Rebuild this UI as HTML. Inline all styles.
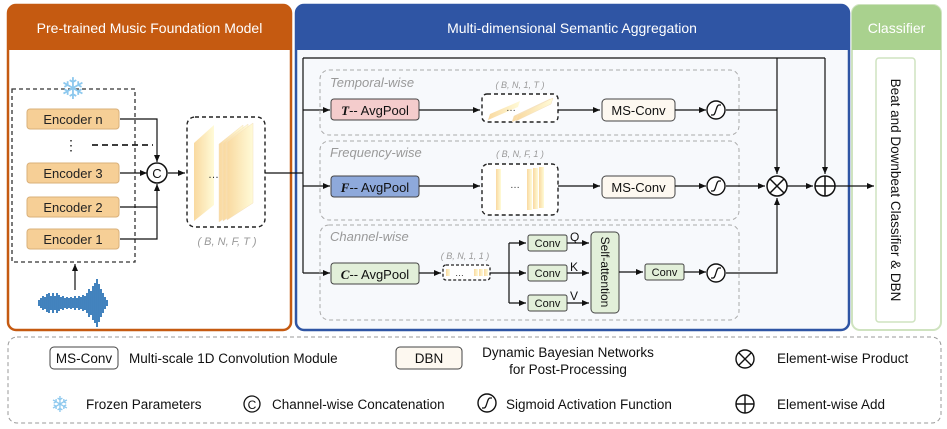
<!DOCTYPE html>
<html><head><meta charset="utf-8"><style>
html,body{margin:0;padding:0;background:#fff;}
svg{display:block;font-family:"Liberation Sans",Arial,sans-serif;}
</style></head><body>
<svg width="947" height="429" viewBox="0 0 947 429" xmlns="http://www.w3.org/2000/svg">
<defs>
<marker id="a" markerWidth="8" markerHeight="8" refX="7" refY="4" orient="auto" markerUnits="userSpaceOnUse"><path d="M0,1 L7,4 L0,7 z" fill="#111"/></marker>
<linearGradient id="pg" x1="0" y1="0" x2="1" y2="0"><stop offset="0" stop-color="#f9d9a0"/><stop offset="1" stop-color="#fffbd8"/></linearGradient>
</defs>
<rect x="8" y="5" width="283" height="325" rx="8" fill="#fff" stroke="#c55a11" stroke-width="2.5"/>
<path d="M8,13 a8,8 0 0 1 8,-8 h267 a8,8 0 0 1 8,8 v37 h-283z" fill="#c55a11"/>
<text x="149.5" y="33" text-anchor="middle" font-size="14" fill="#fff">Pre-trained Music Foundation Model</text>
<rect x="296" y="5" width="553" height="325" rx="8" fill="#f7f9fc" stroke="#2f55a4" stroke-width="2.5"/>
<path d="M296,13 a8,8 0 0 1 8,-8 h537 a8,8 0 0 1 8,8 v37 h-553z" fill="#2f55a4"/>
<text x="572" y="33" text-anchor="middle" font-size="14" fill="#fff">Multi-dimensional Semantic Aggregation</text>
<rect x="852" y="5" width="89" height="325" rx="8" fill="#fff" stroke="#cfe3c0" stroke-width="2"/>
<path d="M852,13 a8,8 0 0 1 8,-8 h73 a8,8 0 0 1 8,8 v37 h-89z" fill="#a9d18e"/>
<text x="896.5" y="33" text-anchor="middle" font-size="14" fill="#fff">Classifier</text>
<rect x="876" y="58" width="39" height="264" rx="3" fill="#fff" stroke="#cfe3c0" stroke-width="1.5"/>
<text transform="translate(891,190) rotate(90)" text-anchor="middle" font-size="13.5" fill="#111">Beat and Downbeat Classifier &amp; DBN</text>

<rect x="12" y="89" width="123" height="173" fill="none" stroke="#333" stroke-width="1.3" stroke-dasharray="4,3"/>
<text x="73" y="99" text-anchor="middle" font-size="30" fill="#8cc8ee">❄</text>
<g font-size="13" fill="#222" text-anchor="middle">
<rect x="27" y="109" width="92" height="20" rx="3" fill="#f6cf96" stroke="#d9b07a"/><text x="73" y="124">Encoder n</text>
<rect x="27" y="163" width="92" height="20" rx="3" fill="#f6cf96" stroke="#d9b07a"/><text x="73" y="178">Encoder 3</text>
<rect x="27" y="197" width="92" height="20" rx="3" fill="#f6cf96" stroke="#d9b07a"/><text x="73" y="212">Encoder 2</text>
<rect x="27" y="229" width="92" height="20" rx="3" fill="#f6cf96" stroke="#d9b07a"/><text x="73" y="244">Encoder 1</text>
</g>
<text x="71" y="150" text-anchor="middle" font-size="14" fill="#222">⋮</text>
<line x1="92" y1="145" x2="153" y2="145" stroke="#222" stroke-width="1.8" stroke-dasharray="6,4"/>
<g stroke="#111" stroke-width="1.2" fill="none">
<polyline points="120,119 157,119 157,162" marker-end="url(#a)"/>
<line x1="120" y1="173" x2="147" y2="173" marker-end="url(#a)"/>
<polyline points="120,207 157,207 157,184" marker-end="url(#a)"/>
<polyline points="120,239 157,239 157,207"/>
<line x1="168" y1="173" x2="185" y2="173" marker-end="url(#a)"/>
<line x1="75" y1="290" x2="75" y2="264" marker-end="url(#a)"/>
</g>
<circle cx="157" cy="173" r="10" fill="#fff" stroke="#111" stroke-width="1.5"/>
<text x="157" y="178" text-anchor="middle" font-size="13" fill="#111">C</text>
<rect x="187" y="117" width="78" height="110" rx="8" fill="#fff" stroke="#222" stroke-width="1.4" stroke-dasharray="4,3"/>
<polygon points="194,143 214,125 214,205 194,221" fill="url(#pg)"/>
<polygon points="219,144 243,125 243,205 219,222" fill="url(#pg)" stroke="#f4e0c0" stroke-width="0.5"/>
<polygon points="223,143 248,124 248,204 223,221" fill="url(#pg)" stroke="#f4e0c0" stroke-width="0.5"/>
<polygon points="227,142 253,123 253,203 227,220" fill="url(#pg)" stroke="#f4e0c0" stroke-width="0.5"/>
<text x="208" y="178" font-size="11" fill="#333">…</text>
<text x="227" y="245" text-anchor="middle" font-size="11" font-style="italic" fill="#999">( B, N, F, T )</text>
<g stroke="#2e75b6" stroke-width="1.8">
<path d="M39,300v6 M41,298v10 M43,296v14 M45,297v12 M47,294v18 M49,293v20 M51,296v14 M53,293v20 M55,296v14 M57,293v20 M59,295v16 M61,297v12 M63,296v14 M65,298v10 M67,297v12 M69,298v10 M71,297v12 M73,298v10 M75,296v14 M77,298v10 M79,296v14 M81,297v12 M83,295v16 M85,296v14 M87,293v20 M89,289v28 M91,291v24 M93,286v34 M95,283v40 M97,279v48 M99,284v38 M101,289v28 M103,293v20 M105,297v12 M107,300v6"/>
</g>

<g stroke="#111" stroke-width="1.2" fill="none">
<line x1="265" y1="173" x2="303" y2="173"/>
<line x1="303" y1="58" x2="303" y2="273"/>
<line x1="303" y1="58" x2="825" y2="58"/>
<line x1="303" y1="110" x2="330" y2="110" marker-end="url(#a)"/>
<line x1="303" y1="186" x2="330" y2="186" marker-end="url(#a)"/>
<line x1="303" y1="273" x2="330" y2="273" marker-end="url(#a)"/>
</g>
<rect x="320" y="70" width="419" height="65" rx="9" fill="none" stroke="#aaa" stroke-dasharray="4,3"/>
<rect x="320" y="141" width="419" height="79" rx="9" fill="none" stroke="#aaa" stroke-dasharray="4,3"/>
<rect x="320" y="225" width="419" height="95" rx="9" fill="none" stroke="#aaa" stroke-dasharray="4,3"/>
<g font-size="13" font-style="italic" fill="#999">
<text x="330" y="87">Temporal-wise</text>
<text x="330" y="157">Frequency-wise</text>
<text x="330" y="241">Channel-wise</text>
</g>
<rect x="331" y="99" width="88" height="21" rx="3" fill="#f4cccc" stroke="#444"/>
<text x="375" y="115" text-anchor="middle" font-size="13" fill="#111"><tspan font-family="Liberation Serif" font-weight="bold" font-style="italic">T</tspan>-- AvgPool</text>
<rect x="482" y="94" width="76" height="28" rx="5" fill="#fff" stroke="#222" stroke-width="1.4" stroke-dasharray="4,3"/>
<polygon points="488,120 490,114 520,101 518,107" fill="url(#pg)"/>
<polygon points="512,122 514,116 550,99 548,105" fill="url(#pg)" stroke="#f4e0c0" stroke-width="0.5"/>
<polygon points="516,121 518,115 553,98 551,104" fill="url(#pg)" stroke="#f4e0c0" stroke-width="0.5"/>
<text x="506" y="111" font-size="10" fill="#333">…</text>
<text x="520" y="88" text-anchor="middle" font-size="9" font-style="italic" fill="#999">( B, N, 1, T )</text>
<rect x="602" y="99" width="73" height="22" rx="4" fill="#fdf8f0" stroke="#444"/>
<text x="638.5" y="115" text-anchor="middle" font-size="13" fill="#111">MS-Conv</text>
<rect x="331" y="176" width="88" height="21" rx="3" fill="#8ea9db" stroke="#444"/>
<text x="375" y="192" text-anchor="middle" font-size="13" fill="#111"><tspan font-family="Liberation Serif" font-weight="bold" font-style="italic">F</tspan>-- AvgPool</text>
<rect x="482" y="164" width="76" height="51" rx="6" fill="#fff" stroke="#222" stroke-width="1.4" stroke-dasharray="4,3"/>
<rect x="496" y="169" width="5" height="41" fill="url(#pg)"/>
<rect x="527" y="169" width="5" height="41" fill="url(#pg)"/>
<rect x="533" y="168" width="5" height="41" fill="url(#pg)"/>
<rect x="539" y="167" width="5" height="41" fill="url(#pg)"/>
<text x="510" y="188" font-size="10" fill="#333">…</text>
<text x="520" y="157" text-anchor="middle" font-size="9" font-style="italic" fill="#999">( B, N, F, 1 )</text>
<rect x="602" y="176" width="73" height="22" rx="4" fill="#fdf8f0" stroke="#444"/>
<text x="638.5" y="192" text-anchor="middle" font-size="13" fill="#111">MS-Conv</text>
<rect x="331" y="263" width="88" height="21" rx="3" fill="#e2efd9" stroke="#444"/>
<text x="375" y="279" text-anchor="middle" font-size="13" fill="#111"><tspan font-family="Liberation Serif" font-weight="bold" font-style="italic">C</tspan>-- AvgPool</text>
<rect x="443" y="265" width="47" height="15" rx="3" fill="#fff" stroke="#222" stroke-width="1.3" stroke-dasharray="3,2"/>
<rect x="446" y="269" width="4" height="7" fill="url(#pg)"/>
<rect x="474" y="269" width="4" height="7" fill="url(#pg)"/>
<rect x="479" y="269" width="4" height="7" fill="url(#pg)"/>
<rect x="484" y="269" width="4" height="7" fill="url(#pg)"/>
<text x="455" y="276" font-size="9" fill="#333">…</text>
<text x="465" y="259" text-anchor="middle" font-size="9" font-style="italic" fill="#999">( B, N, 1, 1 )</text>
<g font-size="11" fill="#111" text-anchor="middle">
<rect x="528" y="235" width="39" height="16" rx="2" fill="#e2efd9" stroke="#444"/><text x="547.5" y="247">Conv</text>
<rect x="528" y="265" width="39" height="16" rx="2" fill="#e2efd9" stroke="#444"/><text x="547.5" y="277">Conv</text>
<rect x="528" y="295" width="39" height="16" rx="2" fill="#e2efd9" stroke="#444"/><text x="547.5" y="307">Conv</text>
<rect x="645" y="264" width="39" height="16" rx="2" fill="#e2efd9" stroke="#444"/><text x="664.5" y="276">Conv</text>
</g>
<g font-size="12" fill="#111"><text x="570" y="241">Q</text><text x="570" y="271">K</text><text x="570" y="300">V</text></g>
<rect x="591" y="232" width="28" height="81" rx="4" fill="#e2efd9" stroke="#444"/>
<text transform="translate(601,272) rotate(90)" text-anchor="middle" font-size="12" fill="#111">Self-attention</text>
<g stroke="#111" stroke-width="1.2" fill="none">
<line x1="419" y1="110" x2="480" y2="110" marker-end="url(#a)"/>
<line x1="558" y1="110" x2="600" y2="110" marker-end="url(#a)"/>
<line x1="675" y1="110" x2="706" y2="110" marker-end="url(#a)"/>
<line x1="726" y1="110" x2="777" y2="110"/>
<line x1="419" y1="186" x2="480" y2="186" marker-end="url(#a)"/>
<line x1="558" y1="186" x2="600" y2="186" marker-end="url(#a)"/>
<line x1="675" y1="186" x2="706" y2="186" marker-end="url(#a)"/>
<line x1="726" y1="186" x2="765" y2="186" marker-end="url(#a)"/>
<line x1="419" y1="273" x2="441" y2="273" marker-end="url(#a)"/>
<line x1="490" y1="273" x2="509" y2="273"/>
<line x1="509" y1="243" x2="509" y2="303"/>
<line x1="509" y1="243" x2="526" y2="243" marker-end="url(#a)"/>
<line x1="509" y1="273" x2="526" y2="273" marker-end="url(#a)"/>
<line x1="509" y1="303" x2="526" y2="303" marker-end="url(#a)"/>
<line x1="567" y1="243" x2="589" y2="243" marker-end="url(#a)"/>
<line x1="567" y1="273" x2="589" y2="273" marker-end="url(#a)"/>
<line x1="567" y1="303" x2="589" y2="303" marker-end="url(#a)"/>
<line x1="619" y1="272" x2="643" y2="272" marker-end="url(#a)"/>
<line x1="684" y1="272" x2="706" y2="272" marker-end="url(#a)"/>
<polyline points="726,273 777,273 777,198" marker-end="url(#a)"/>
<line x1="777" y1="58" x2="777" y2="174" marker-end="url(#a)"/>
<line x1="825" y1="58" x2="825" y2="174" marker-end="url(#a)"/>
<line x1="787" y1="186" x2="813" y2="186" marker-end="url(#a)"/>
<line x1="835" y1="186" x2="874" y2="186" marker-end="url(#a)"/>
</g>
<g fill="#fff" stroke="#111" stroke-width="1.4">
<circle cx="716" cy="110" r="9"/><circle cx="716" cy="186" r="9"/><circle cx="716" cy="273" r="9"/>
</g>
<g fill="none" stroke="#111" stroke-width="1.3">
<path d="M711,115 h2 c3,0 3,-10 6,-10 h2"/>
<path d="M711,191 h2 c3,0 3,-10 6,-10 h2"/>
<path d="M711,278 h2 c3,0 3,-10 6,-10 h2"/>
</g>
<circle cx="777" cy="186" r="10" fill="#fff" stroke="#111" stroke-width="1.5"/>
<path d="M770,179 L784,193 M784,179 L770,193" stroke="#111" stroke-width="1.5"/>
<circle cx="825" cy="186" r="10" fill="#fff" stroke="#111" stroke-width="1.5"/>
<path d="M815,186 H835 M825,176 V196" stroke="#111" stroke-width="1.5"/>

<rect x="8" y="337" width="933" height="86" rx="9" fill="#fff" stroke="#999" stroke-dasharray="4,3"/>
<g font-size="13.5" fill="#111">
<rect x="50" y="347" width="68" height="22" rx="4" fill="#fff" stroke="#444"/>
<text x="84" y="363" text-anchor="middle">MS-Conv</text>
<text x="129" y="363">Multi-scale 1D Convolution Module</text>
<rect x="396" y="347" width="66" height="22" rx="4" fill="#fdf8f0" stroke="#444"/>
<text x="429" y="363" text-anchor="middle">DBN</text>
<text x="568" y="357" text-anchor="middle">Dynamic Bayesian Networks</text>
<text x="568" y="374" text-anchor="middle">for Post-Processing</text>
<text x="777" y="363">Element-wise Product</text>
<text x="86" y="409">Frozen Parameters</text>
<text x="272" y="409">Channel-wise Concatenation</text>
<text x="506" y="409">Sigmoid Activation Function</text>
<text x="777" y="409">Element-wise Add</text>
</g>
<text x="60" y="412" text-anchor="middle" font-size="22" fill="#8cc8ee">❄</text>
<circle cx="252" cy="404" r="8" fill="none" stroke="#111" stroke-width="1.3"/>
<text x="252" y="409" text-anchor="middle" font-size="12" fill="#111">C</text>
<circle cx="487" cy="403" r="9" fill="none" stroke="#111" stroke-width="1.4"/>
<path d="M482,408 h2 c3,0 3,-10 6,-10 h2" fill="none" stroke="#111" stroke-width="1.3"/>
<circle cx="745" cy="359" r="9" fill="none" stroke="#111" stroke-width="1.4"/>
<path d="M739,353 L751,365 M751,353 L739,365" stroke="#111" stroke-width="1.4"/>
<circle cx="745" cy="404" r="9" fill="none" stroke="#111" stroke-width="1.4"/>
<path d="M736,404 H754 M745,395 V413" stroke="#111" stroke-width="1.4"/>
</svg>
</body></html>
